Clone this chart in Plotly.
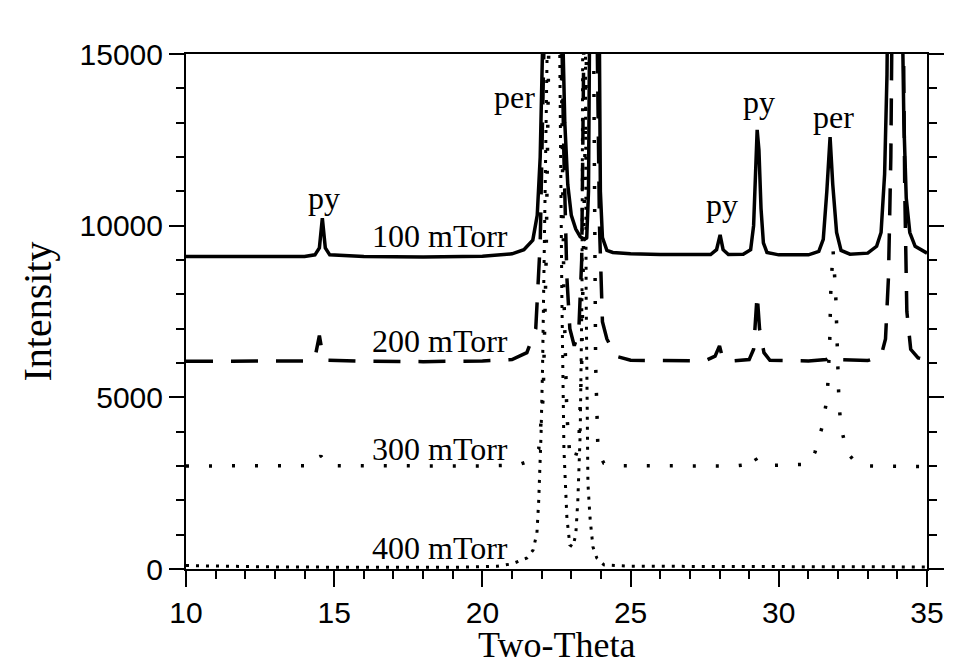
import plotly.graph_objects as go

# ---- data (Two-Theta, Intensity) ----
x100 = [10.0, 12.0, 14.0, 14.35, 14.5, 14.6, 14.7, 14.85, 16.0, 18.0, 20.0, 21.0, 21.4, 21.7, 21.85,
        21.95, 22.03, 22.1, 22.4, 22.7, 22.78, 22.88, 23.0, 23.15, 23.3, 23.45, 23.52, 23.58, 23.63,
        23.8, 23.95, 23.98, 24.05, 24.2, 24.4, 25.0, 26.0, 27.0, 27.7, 27.9, 28.02, 28.12, 28.3, 28.8,
        29.05, 29.15, 29.22, 29.27, 29.33, 29.4, 29.48, 29.6, 30.0, 31.0, 31.35, 31.5, 31.62, 31.73,
        31.82, 31.95, 32.1, 32.4, 33.0, 33.3, 33.45, 33.57, 33.65, 33.7, 33.95, 34.17, 34.22, 34.3,
        34.42, 34.6, 35.0]
y100 = [9100, 9090, 9100, 9150, 9350, 10220, 9350, 9150, 9100, 9090, 9110, 9180, 9300, 9580, 10300,
        12000, 14800, 18000, 30000, 16000, 13000, 11200, 10300, 9900, 9680, 9600, 9650, 11000, 15000,
        40000, 15000, 11000, 9650, 9280, 9220, 9180, 9160, 9150, 9160, 9300, 9730, 9300, 9160, 9170,
        9300, 10000, 12000, 12790, 12200, 10500, 9500, 9220, 9150, 9150, 9250, 9600, 11000, 12580,
        11200, 9800, 9280, 9170, 9200, 9400, 9800, 11500, 14400, 16500, 40000, 16000, 13000, 10800,
        9800, 9400, 9200]

x200 = [10.0, 14.0, 14.35, 14.5, 14.6, 14.75, 16.0, 18.0, 20.0, 21.0, 21.5, 21.8, 21.95, 22.05,
        22.15, 22.4, 22.65, 22.75, 22.85, 22.95, 23.1, 23.25, 23.35, 23.45, 23.55, 23.7, 23.85, 23.95,
        24.05, 24.2, 24.5, 25.0, 27.5, 27.85, 28.0, 28.1, 28.3, 29.0, 29.15, 29.27, 29.35, 29.5, 29.7,
        31.0, 31.6, 31.75, 31.9, 33.0, 33.45, 33.6, 33.7, 33.78, 33.82, 34.0, 34.2, 34.25, 34.32,
        34.45, 34.7, 35.0]
y200 = [6050, 6060, 6150, 6800, 6300, 6080, 6050, 6040, 6060, 6100, 6300, 7000, 9500, 13000,
        17000, 30000, 17000, 12000, 8500, 7000, 6500, 6900, 9000, 13000, 17000, 40000, 17000, 10000,
        7200, 6700, 6200, 6080, 6060, 6200, 6500, 6150, 6050, 6100, 6400, 8000, 7000, 6300, 6080,
        6060, 6100, 6200, 6100, 6070, 6200, 6700, 8500, 12000, 16000, 40000, 16000, 11000, 7500,
        6400, 6150, 6080]

x300 = [10.0, 14.2, 14.45, 14.55, 14.65, 14.9, 20.0, 21.2, 21.6, 21.9, 22.05, 22.15, 22.25, 22.45,
        22.65, 22.75, 22.85, 22.95, 23.1, 23.25, 23.35, 23.45, 23.55, 23.65, 23.75, 23.82, 23.9, 24.1,
        24.5, 28.5, 29.0, 29.15, 29.3, 29.5, 31.0, 31.22, 31.46, 31.6, 31.66, 31.72, 31.75, 31.83,
        31.92, 31.96, 32.0, 32.03, 32.1, 32.3, 32.6, 33.0, 35.0]
y300 = [3000, 3010, 3150, 3300, 3120, 3010, 3000, 3030, 3150, 3500, 5000, 9000, 16000, 30000,
        16000, 8000, 4500, 3300, 3150, 3600, 6000, 11000, 17000, 30000, 14000, 6000, 3400, 3080,
        3010, 3000, 3050, 3300, 3100, 3010, 3050, 3400, 4130, 4830, 5450, 6700, 8000, 9300,
        8000, 6700, 5450, 4830, 4130, 3400, 3100, 3000, 2980]

x400 = [10.0, 11.0, 13.0, 16.0, 19.0, 20.5, 21.0, 21.3, 21.5, 21.71, 21.84, 21.9, 21.98, 22.03,
        22.1, 22.2, 22.4, 22.6, 22.68, 22.75, 22.85, 22.95, 23.05, 23.15, 23.22, 23.3, 23.36, 23.43,
        23.5, 23.56, 23.63, 23.73, 23.86, 24.1, 25.0, 30.0, 35.0]
y400 = [100, 80, 60, 50, 50, 80, 150, 250, 320, 550, 1050, 2000, 3960, 5900,
        10000, 16000, 30000, 16000, 8000, 3500, 1500, 700, 640, 1000, 2000, 3960, 8000, 30000,
        8000, 2500, 1500, 640, 320, 120, 80, 60, 60]

series_names = ["100 mTorr", "200 mTorr", "300 mTorr", "400 mTorr"]

x_ticks = [10, 15, 20, 25, 30, 35]
y_ticks = [0, 5000, 10000, 15000]

x_title = "Two-Theta"
y_title = "Intensity"

# peak labels: text, position (Two-Theta, Intensity)
peak_labels = ["py", "per", "LaAlO<sub>3</sub>", "py", "py", "per", "py"]
peak_label_x = [14.65, 21.07, 26.26, 28.08, 29.33, 31.83, 33.85]
peak_label_y = [10800, 13750, 16000, 10600, 13600, 13160, 15520]

series_label_x = [18.57, 18.57, 18.57, 18.57]
series_label_y = [9700, 6650, 3500, 620]

serif = "Liberation Serif, Times New Roman, serif"
sans = "Liberation Sans, Arial, Helvetica, sans-serif"

fig = go.Figure()
styles = [
    dict(color="black", width=3.5, dash="solid"),
    dict(color="black", width=3.5, dash="27px,18px"),
    dict(color="black", width=3.5, dash="3px,20px"),
    dict(color="black", width=3, dash="3px,7px"),
]
for xs, ys, name, st in zip([x100, x200, x300, x400], [y100, y200, y300, y400], series_names, styles):
    fig.add_trace(go.Scatter(x=xs, y=ys, mode="lines", name=name, line=st, showlegend=False))

annotations = []
for t, ax_, ay_ in zip(peak_labels, peak_label_x, peak_label_y):
    annotations.append(dict(x=ax_, y=ay_, xref="x", yref="y", text=t, showarrow=False,
                            font=dict(family=serif, size=32, color="black"),
                            xanchor="center", yanchor="middle"))
for t, ax_, ay_ in zip(series_names, series_label_x, series_label_y):
    annotations.append(dict(x=ax_, y=ay_, xref="x", yref="y", text=t, showarrow=False,
                            font=dict(family=serif, size=32, color="black"),
                            xanchor="center", yanchor="middle"))
# x-axis title placed below the tick labels
annotations.append(dict(x=0.5, y=-0.148, xref="paper", yref="paper", text=x_title, showarrow=False,
                        font=dict(family=serif, size=36, color="black"),
                        xanchor="center", yanchor="middle"))

# the page body adds an 8px offset, so the figure is sized/margined to compensate
fig.update_layout(
    width=946, height=658,
    margin=dict(l=178, r=27, t=46, b=97),
    paper_bgcolor="white", plot_bgcolor="white",
    annotations=annotations,
    xaxis=dict(
        range=[10, 35], tickvals=x_ticks, ticktext=[str(v) for v in x_ticks],
        showgrid=False, zeroline=False, automargin=False,
        showline=True, linecolor="black", linewidth=2, mirror=True,
        ticks="outside", ticklen=16, tickwidth=2, tickcolor="black",
        minor=dict(dtick=1, ticks="outside", ticklen=8, tickwidth=1.5, tickcolor="black"),
        tickfont=dict(family=sans, size=30, color="black"),
    ),
    yaxis=dict(
        range=[0, 15000], tickvals=y_ticks, ticktext=[str(v) for v in y_ticks],
        showgrid=False, zeroline=False, automargin=False,
        showline=True, linecolor="black", linewidth=2, mirror="allticks",
        ticks="outside", ticklen=15, tickwidth=2, tickcolor="black",
        minor=dict(dtick=1000, ticks="outside", ticklen=8, tickwidth=1.5, tickcolor="black"),
        tickfont=dict(family=sans, size=30, color="black"),
        title=dict(text=y_title, font=dict(family=serif, size=40, color="black"), standoff=16),
    ),
)

fig.write_html("out.html")
